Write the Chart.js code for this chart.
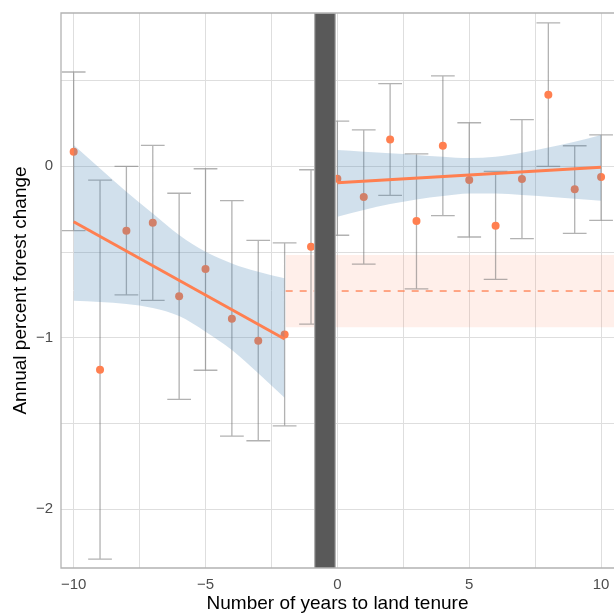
<!DOCTYPE html>
<html>
<head>
<meta charset="utf-8">
<script src="https://cdn.jsdelivr.net/npm/chart.js@4.4.1/dist/chart.umd.min.js"></script>
<style>
  html, body { margin: 0; padding: 0; background: #fff; }
  #wrap { width: 614px; height: 614px; }
</style>
</head>
<body>
<div id="wrap"><canvas id="forestChart" width="614" height="614"></canvas></div>
<script>
// yearly estimates around the year of land tenure
let years = [-10, -9, -8, -7, -6, -5, -4, -3, -2, -1, 0, 1, 2, 3, 4, 5, 6, 7, 8, 9, 10]
let change = [0.085, -1.186, -0.375, -0.329, -0.758, -0.599, -0.889, -1.017, -0.98, -0.469,
              -0.072, -0.179, 0.157, -0.319, 0.12, -0.08, -0.346, -0.074, 0.418, -0.134, -0.062]
let errHigh = [0.55, -0.08, 0.0, 0.122, -0.157, -0.014, -0.2, -0.432, -0.446, -0.02,
               0.264, 0.213, 0.482, 0.073, 0.527, 0.254, -0.029, 0.272, 0.837, 0.12, 0.183]
let errLow = [-0.375, -2.29, -0.749, -0.781, -1.359, -1.189, -1.573, -1.6, -1.513, -0.92,
              -0.402, -0.57, -0.169, -0.714, -0.288, -0.412, -0.659, -0.422, 0.0, -0.391, -0.315]

// linear fits and their confidence bands
let fitLeftX = [-10, -2]
let fitLeftY = [-0.323, -1.007]
let fitRightX = [0, 10]
let fitRightY = [-0.096, -0.006]

let ciLeftX = [-10, -9, -8, -7, -6, -5, -4, -3, -2]
let ciLeftUpper = [0.124, -0.012, -0.148, -0.275, -0.40, -0.498, -0.566, -0.615, -0.653]
let ciLeftLower = [-0.784, -0.791, -0.803, -0.826, -0.873, -0.964, -1.071, -1.207, -1.35]
let ciRightX = [0, 1, 2, 3, 4, 5, 6, 7, 8, 9, 10]
let ciRightUpper = [0.095, 0.085, 0.076, 0.066, 0.056, 0.048, 0.056, 0.079, 0.11, 0.143, 0.183]
let ciRightLower = [-0.294, -0.255, -0.22, -0.193, -0.173, -0.158, -0.158, -0.167, -0.177, -0.189, -0.2]

// reference mean before tenure (dashed) with its band
let refX = [-1.96, 10.6]
let refMean = -0.727
let refHigh = -0.517
let refLow = -0.939

// year of tenure, grey bar
let tenureBar = [-0.86, -0.08]

let xTicks = [-10, -7.5, -5, -2.5, 0, 2.5, 5, 7.5, 10]
let yTicks = [-2, -1.5, -1, -0.5, 0, 0.5]

let xMin = -10.48, xMax = 10.49
let yMin = -2.342, yMax = 0.894

let coral = 'rgb(255, 127, 80)'
let capHalf = 0.45

function pts(xs, ys) {
    return xs.map(function (x, i) { return {x: x, y: ys[i]} })
}

let errPts = []
years.forEach(function (yr, i) {
    errPts.push({x: yr, y: errLow[i]}, {x: yr, y: errHigh[i]}, {x: yr, y: null})
    errPts.push({x: yr - capHalf, y: errHigh[i]}, {x: yr + capHalf, y: errHigh[i]}, {x: yr, y: null})
    errPts.push({x: yr - capHalf, y: errLow[i]}, {x: yr + capHalf, y: errLow[i]}, {x: yr, y: null})
})

let barPts = [
    {x: tenureBar[0], y: yMin}, {x: tenureBar[0], y: yMax},
    {x: tenureBar[1], y: yMax}, {x: tenureBar[1], y: yMin}
]

let panelBorder = {
    id: 'panelBorder',
    afterDatasetsDraw: function (chart) {
        let a = chart.chartArea
        let c = chart.ctx
        c.save()
        c.strokeStyle = '#b3b3b3'
        c.lineWidth = 1.3
        c.beginPath()
        c.moveTo(a.right + 2, a.top)
        c.lineTo(a.left, a.top)
        c.lineTo(a.left, a.bottom)
        c.lineTo(a.right + 2, a.bottom)
        c.stroke()
        c.restore()
    }
}

function fmt(v) {
    return String(v).replace('-', '\u2212')
}

// keep the plot panel exactly where the axes say, no label padding
function noPad(s) {
    s.paddingTop = 0
    s.paddingBottom = 0
    s.paddingLeft = 0
    s.paddingRight = 0
}

let ctx = document.getElementById('forestChart').getContext('2d')
let chart = new Chart(ctx, {
    type: 'line',
    data: {
        datasets: [
            // reference band
            {data: refX.map(function (x) { return {x: x, y: refHigh} }), fill: '+1',
             backgroundColor: 'rgba(255, 127, 80, 0.12)', borderWidth: 0, order: 20},
            {data: refX.map(function (x) { return {x: x, y: refLow} }), fill: false,
             borderWidth: 0, order: 20},
            {data: refX.map(function (x) { return {x: x, y: refMean} }), fill: false,
             borderColor: coral, borderWidth: 1.3, borderDash: [7, 7], order: 19},
            // error bars
            {data: errPts, fill: false, spanGaps: false,
             borderColor: 'rgba(115, 115, 115, 0.55)', borderWidth: 1.3, order: 18},
            // estimates
            {data: pts(years, change), showLine: false, pointRadius: 4,
             pointBackgroundColor: coral, pointBorderWidth: 0, order: 17},
            // confidence bands
            {data: pts(ciLeftX, ciLeftUpper), fill: '+1', cubicInterpolationMode: 'monotone',
             backgroundColor: 'rgba(70, 130, 180, 0.25)', borderWidth: 0, order: 16},
            {data: pts(ciLeftX, ciLeftLower), fill: false, cubicInterpolationMode: 'monotone',
             borderWidth: 0, order: 16},
            {data: pts(ciRightX, ciRightUpper), fill: '+1', cubicInterpolationMode: 'monotone',
             backgroundColor: 'rgba(70, 130, 180, 0.25)', borderWidth: 0, order: 16},
            {data: pts(ciRightX, ciRightLower), fill: false, cubicInterpolationMode: 'monotone',
             borderWidth: 0, order: 16},
            // fitted lines
            {data: pts(fitLeftX, fitLeftY), fill: false, borderColor: coral, borderWidth: 3,
             borderCapStyle: 'butt', order: 15},
            {data: pts(fitRightX, fitRightY), fill: false, borderColor: coral, borderWidth: 3,
             borderCapStyle: 'butt', order: 15},
            // tenure year
            {data: barPts, fill: 'start', backgroundColor: '#595959',
             borderColor: '#ababab', borderWidth: 1.2, order: 14}
        ]
    },
    options: {
        responsive: false,
        animation: false,
        events: [],
        layout: {autoPadding: false, padding: {top: 13, right: 0, left: 0, bottom: 0}},
        elements: {point: {radius: 0}, line: {tension: 0}},
        plugins: {legend: {display: false}, tooltip: {enabled: false}},
        scales: {
            x: {
                type: 'linear',
                min: xMin,
                max: xMax,
                afterBuildTicks: function (s) { s.ticks = xTicks.map(function (v) { return {value: v} }) },
                afterFit: function (s) { s.height = 46; noPad(s) },
                border: {display: false},
                grid: {color: '#dedede', lineWidth: 1, drawTicks: false},
                ticks: {
                    padding: 8,
                    color: '#4d4d4d',
                    font: {family: '"Liberation Sans", Arial, sans-serif', size: 15},
                    maxRotation: 0,
                    autoSkip: false,
                    callback: function (v) { return v % 5 === 0 ? fmt(v) : '' }
                },
                title: {
                    display: true,
                    text: 'Number of years to land tenure',
                    color: '#000',
                    font: {family: '"Liberation Sans", Arial, sans-serif', size: 19, lineHeight: 1},
                    padding: {top: 0, bottom: 0.5}
                }
            },
            y: {
                min: yMin,
                max: yMax,
                afterBuildTicks: function (s) { s.ticks = yTicks.map(function (v) { return {value: v} }) },
                afterFit: function (s) { s.width = 61; noPad(s) },
                border: {display: false},
                grid: {color: '#dedede', lineWidth: 1, drawTicks: false},
                ticks: {
                    padding: 8,
                    color: '#4d4d4d',
                    font: {family: '"Liberation Sans", Arial, sans-serif', size: 15},
                    autoSkip: false,
                    callback: function (v) { return v % 1 === 0 ? fmt(v) : '' }
                },
                title: {
                    display: true,
                    text: 'Annual percent forest change',
                    color: '#000',
                    font: {family: '"Liberation Sans", Arial, sans-serif', size: 19, lineHeight: 1},
                    padding: {top: 11, bottom: 0}
                }
            }
        }
    },
    plugins: [panelBorder]
})
</script>
</body>
</html>
